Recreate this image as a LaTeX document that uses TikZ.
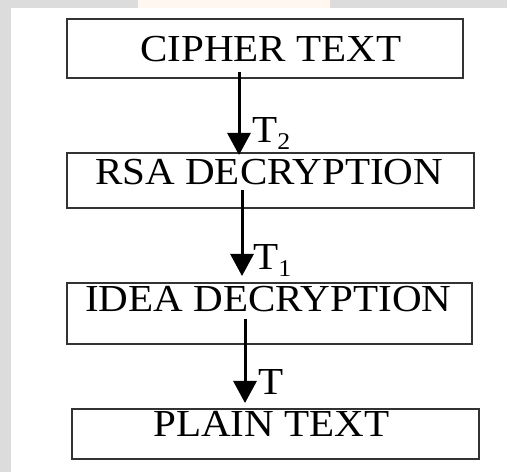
\documentclass[tikz,border=0pt]{standalone}
\usepackage{fontspec}
\setmainfont{Liberation Serif}[FakeStretch=1.075]
\usetikzlibrary{arrows.meta}
\definecolor{band}{HTML}{DCDCDC}
\definecolor{boxline}{HTML}{333333}
\tikzset{
  stagebox/.style={draw=boxline, line width=2pt, fill=none, inner sep=0pt, anchor=north west},
  stagetext/.style={anchor=base west, inner sep=0pt, font=\fontsize{38.2}{40}\selectfont},
  flow/.style={line width=3pt, -{Triangle[width=23pt,length=22pt]}},
  flowlabel/.style={anchor=base west, inner sep=0pt, font=\fontsize{38.2}{40}\selectfont},
}
\newcommand{\subidx}[1]{\raisebox{-7pt}{\fontsize{24}{24}\selectfont #1}}
\begin{document}
\begin{tikzpicture}[x=1pt,y=1pt]
  \useasboundingbox (0,0) rectangle (507,472);
  % page background with grey margin bands
  \fill[white] (0,0) rectangle (507,472);
  \fill[band] (0,464) rectangle (507,472);
  \fill[band] (0,0) rectangle (11,472);
  \fill[orange!6] (138,464) rectangle (330,472);

  % stage boxes
  \node[stagebox, minimum width=396pt, minimum height=59pt] (b1) at (66,454) {};
  \node[stagebox, minimum width=407pt, minimum height=55pt] (b2) at (66,320) {};
  \node[stagebox, minimum width=405pt, minimum height=61pt] (b3) at (66,190) {};
  \node[stagebox, minimum width=407pt, minimum height=50pt] (b4) at (71,64) {};

  % stage captions
  \node[stagetext] (t1) at (140,410) {CIPHER TEXT};
  \node[stagetext] (t2) at (95,287) {RSA DECRYPTION};
  \node[stagetext] (t3) at (85,160) {IDEA DECRYPTION};
  \node[stagetext] (t4) at (153,35) {PLAIN TEXT};

  % flow arrows between stages
  \draw[flow] ([xshift=-26pt,yshift=7pt]b1.south) -- ([xshift=-31.5pt,yshift=-3pt]b2.north);
  \draw[flow] ([xshift=-28.5pt,yshift=19pt]b2.south) -- ([xshift=-27.5pt,yshift=6pt]b3.north);
  \draw[flow] ([xshift=-24.5pt,yshift=26pt]b3.south) -- ([xshift=-30.5pt,yshift=5pt]b4.north);

  % arrow labels
  \node[flowlabel] (l1) at (252,329) {T\subidx{2}};
  \node[flowlabel] (l2) at (253,202) {T\subidx{1}};
  \node[flowlabel] (l3) at (258,77) {T};
\end{tikzpicture}
\end{document}
